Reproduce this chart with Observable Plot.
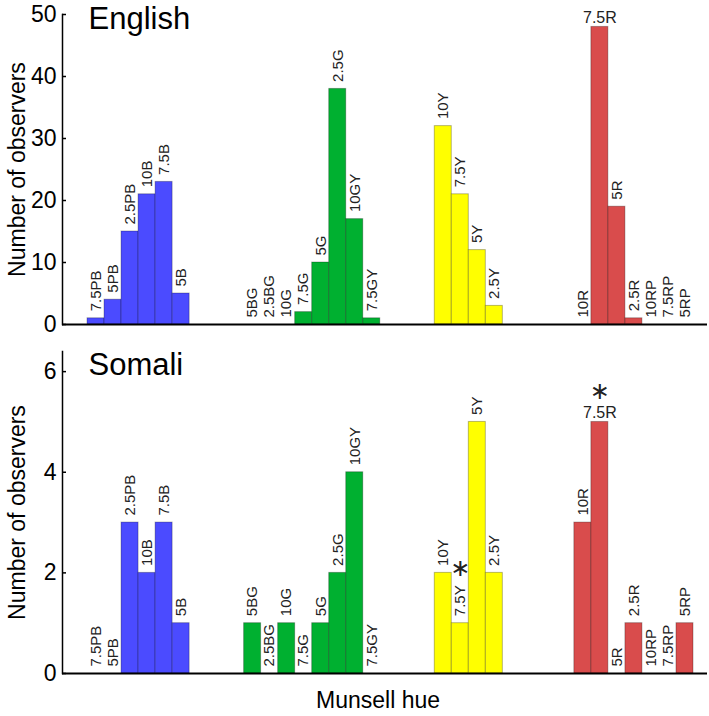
<!DOCTYPE html>
<html><head><meta charset="utf-8">
<script src="https://cdn.jsdelivr.net/npm/d3@7"></script>
<script src="https://cdn.jsdelivr.net/npm/@observablehq/plot@0.6"></script>
<style>
html,body{margin:0;padding:0;background:#fff;}
#chart svg{display:block;}
</style>
</head><body><div id="chart"></div>
<script>
// Munsell hue categories, in display order, per colour group
const blueHues = ["7.5PB","5PB","2.5PB","10B","7.5B","5B"];
const greenHues = ["5BG","2.5BG","10G","7.5G","5G","2.5G","10GY","7.5GY"];
const yellowHues = ["10Y","7.5Y","5Y","2.5Y"];
const redHues = ["10R","7.5R","5R","2.5R","10RP","7.5RP","5RP"];
const groupNames = ["PB–B","BG–GY","Y","R–RP"];

// Number of observers per hue (same order as above)
const englishCounts = [1,4,15,21,23,5, 0,0,0,2,10,38,17,1, 32,21,12,3, 0,48,19,1,0,0,0];
const somaliCounts  = [0,0,3,2,3,1, 1,0,1,0,1,2,4,0, 2,1,5,2, 3,5,0,1,0,0,1];

const englishTicks = [0,10,20,30,40,50];
const somaliTicks = [0,2,4,6];
const englishHorizontal = ["7.5R"];
const somaliHorizontal = ["7.5R"];
const somaliStarred = ["7.5Y","7.5R"];

// layout / style
const groupColors = ["#4b4bff","#00b030","#ffff00","#d94c4c"];
const groupGapsAfter = [3.2, 3.2, 4.2];
const FONT = "Liberation Sans, Arial, Helvetica, sans-serif";
const W = 709, ML = 62, MR = 2;

const groups = [blueHues, greenHues, yellowHues, redHues];
const slots = [];
let pos = 0;
groups.forEach((hues, g) => {
  hues.forEach(h => { slots.push({hue: h, group: groupNames[g], pos}); pos += 1; });
  if (g < groupGapsAfter.length) pos += groupGapsAfter[g];
});
const totalSlots = pos;

function panel({counts, ticks, yMax, title, horizontal, starred, height, marginTop, marginBottom, titleDy, xLabel}) {
  const data = slots.map((s, i) => ({...s, count: counts[i]}));
  const rotated = data.filter(d => !horizontal.includes(d.hue));
  const flat = data.filter(d => horizontal.includes(d.hue));
  const starRot = rotated.filter(d => starred.includes(d.hue));
  const starFlat = flat.filter(d => starred.includes(d.hue));
  const marks = [
    Plot.rectY(data, {x1: "pos", x2: d => d.pos + 1, y: "count", fill: "group",
      stroke: "#000", strokeOpacity: 0.28, strokeWidth: 1}),
    Plot.ruleY([0], {stroke: "#000", strokeWidth: 2}),
    Plot.frame({anchor: "left", stroke: "#000", strokeWidth: 1.5}),
    Plot.tickY(ticks, {y: d => d, insetRight: W - ML - MR - 4, stroke: "#000", strokeWidth: 1.5}),
    Plot.axisY({ticks, tickSize: 0, tickPadding: 6, fontSize: 23, label: null, tickFormat: "d"}),
    Plot.text(rotated, {x: d => d.pos + 0.5, y: "count", text: "hue", rotate: -90,
      textAnchor: "start", lineAnchor: "middle", dy: -7, fontSize: 15, fill: "#222"}),
    Plot.text(flat, {x: d => d.pos + 0.5, y: "count", text: "hue",
      textAnchor: "middle", lineAnchor: "bottom", dy: -4, fontSize: 16, fill: "#222"}),
    Plot.text(starRot, {x: d => d.pos + 0.5, y: "count", text: () => "\u2217",
      textAnchor: "middle", lineAnchor: "middle", dy: -55, fontSize: 24, fontFamily: "DejaVu Sans", fill: "#222"}),
    Plot.text(starFlat, {x: d => d.pos + 0.5, y: "count", text: () => "\u2217",
      textAnchor: "middle", lineAnchor: "middle", dy: -31, fontSize: 24, fontFamily: "DejaVu Sans", fill: "#222"}),
    Plot.text([title], {text: d => d, frameAnchor: "top-left", dx: 26, dy: titleDy,
      textAnchor: "start", lineAnchor: "bottom", fontSize: 31, fill: "#000"}),
    Plot.text(["Number of observers"], {text: d => d, frameAnchor: "left", rotate: -90,
      textAnchor: "middle", lineAnchor: "bottom", dx: -38, fontSize: 23, fill: "#000"})
  ];
  if (xLabel) {
    marks.push(Plot.text([xLabel], {text: d => d, frameAnchor: "bottom", dx: -7,
      dy: 34, textAnchor: "middle", lineAnchor: "bottom", fontSize: 23, fill: "#000"}));
  }
  return Plot.plot({
    width: W, height,
    marginLeft: ML, marginRight: MR, marginTop, marginBottom,
    style: {fontFamily: FONT, background: "#fff", overflow: "visible"},
    x: {domain: [0, totalSlots], range: [87, 693], axis: null},
    y: {domain: [0, yMax]},
    color: {type: "ordinal", domain: groupNames, range: groupColors},
    marks
  });
}

const chart = document.getElementById("chart");
chart.append(panel({counts: englishCounts, ticks: englishTicks, yMax: 50, title: "English",
  horizontal: englishHorizontal, starred: [], height: 340, marginTop: 14, marginBottom: 16, titleDy: 14}));
chart.append(panel({counts: somaliCounts, ticks: somaliTicks, yMax: 6.4, title: "Somali",
  horizontal: somaliHorizontal, starred: somaliStarred, height: 376, marginTop: 11, marginBottom: 43, titleDy: 23,
  xLabel: "Munsell hue"}));
</script>
</body></html>
